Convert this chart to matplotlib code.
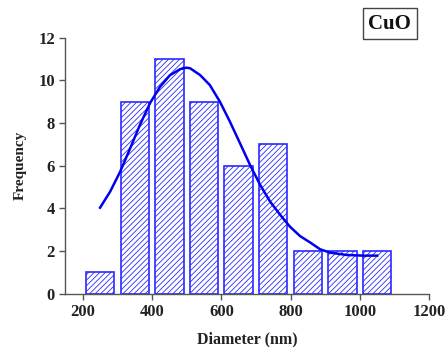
import matplotlib
matplotlib.use("Agg")
import matplotlib.pyplot as plt
from matplotlib.patches import Rectangle

# histogram of CuO particle diameters
bin_centers = [250, 350, 450, 550, 650, 750, 850, 950, 1050]
counts = [1, 9, 11, 9, 6, 7, 2, 2, 2]
bar_width = 82

# fitted curve, points
fit_x = [250, 279, 308, 337, 365, 394, 423, 452, 481, 500, 510, 539, 567,
         596, 625, 654, 683, 712, 741, 770, 798, 827, 856, 885, 914, 962,
         1010, 1050]
fit_y = [4.03, 4.78, 5.72, 6.82, 7.91, 8.93, 9.7, 10.25, 10.53, 10.6, 10.57,
         10.25, 9.78, 9.0, 8.06, 7.05, 6.03, 5.1, 4.31, 3.69, 3.14, 2.7, 2.4,
         2.08, 1.92, 1.81, 1.78, 1.78]

x_ticks = [200, 400, 600, 800, 1000, 1200]
y_ticks = [0, 2, 4, 6, 8, 10, 12]

plt.rcParams["font.family"] = ["Liberation Serif", "DejaVu Serif"]
plt.rcParams["hatch.linewidth"] = 0.6

fig = plt.figure(figsize=(4.45, 3.47), dpi=100)
ax = fig.add_axes([0.147, 0.154, 0.8175, 0.737])

ax.bar(bin_centers, counts, width=bar_width, facecolor="white",
       edgecolor="#2a2aff", linewidth=1.2, hatch="//////")
ax.plot(fit_x, fit_y, color="#0000ee", linewidth=1.8,
        solid_joinstyle="round")

ax.set_xlim(150, 1200)
ax.set_ylim(0, 12)
ax.set_xticks(x_ticks)
ax.set_yticks(y_ticks)

for side in ["top", "right"]:
    ax.spines[side].set_visible(False)
for side in ["left", "bottom"]:
    ax.spines[side].set_color("#555555")
    ax.spines[side].set_linewidth(1.0)
ax.spines["left"].set_zorder(5)

ax.tick_params(direction="out", length=4, width=1, colors="#555555",
               labelcolor="#222222", labelsize=12)
for lbl in ax.get_xticklabels() + ax.get_yticklabels():
    lbl.set_fontweight("bold")

ax.set_xlabel("Diameter (nm)", fontsize=11.5, fontweight="bold",
              color="#222222", labelpad=8)
ax.set_ylabel("Frequency", fontsize=11, fontweight="bold",
              color="#222222", labelpad=8)

# CuO label box
fig.patches.append(Rectangle((0.816, 0.888), 0.121, 0.089,
                             transform=fig.transFigure, facecolor="white",
                             edgecolor="#444444", linewidth=1.0))
fig.text(0.876, 0.932, "CuO", fontsize=15, fontweight="bold",
         ha="center", va="center", color="#111111")

fig.savefig("out.png", dpi=100)
